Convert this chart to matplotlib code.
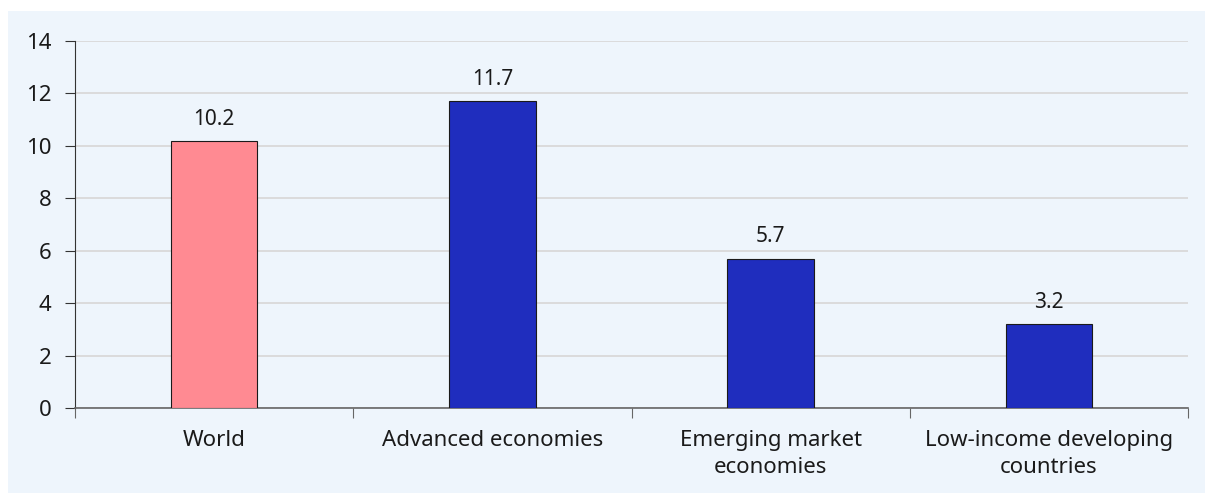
import matplotlib
matplotlib.use("Agg")
import matplotlib.pyplot as plt
from matplotlib.patches import Rectangle

categories = ["World", "Advanced economies", "Emerging market\neconomies", "Low-income developing\ncountries"]
values = [10.2, 11.7, 5.7, 3.2]
colors = ["#FF8A92", "#1F2DBE", "#1F2DBE", "#1F2DBE"]
yticks = [0, 2, 4, 6, 8, 10, 12, 14]

plt.rcParams['font.family'] = ['Noto Sans', 'DejaVu Sans']
bg = "#EEF5FC"
fig = plt.figure(figsize=(12.05, 4.94), dpi=100, facecolor="white")
fig.patches.append(Rectangle((8/1205, 1/494), 1 - 8/1205, 1 - 12/494, transform=fig.transFigure,
                             facecolor=bg, edgecolor="none", zorder=-10))
ax = fig.add_axes([75/1205, 1 - 408/494, (1188 - 75)/1205, (408 - 41)/494])
ax.set_facecolor(bg)

x = list(range(len(categories)))
ax.bar(x, values, width=0.31, color=colors, edgecolor="#1a1a1a", linewidth=0.8, zorder=3)
for xi, v in zip(x, values):
    ax.annotate(f"{v:.1f}", (xi, v), xytext=(0, 8), textcoords="offset points",
                ha="center", va="bottom", fontsize=15, color="#1a1a1a")

ax.set_xlim(-0.5, len(categories) - 0.5)
ax.set_ylim(0, 14)
ax.set_yticks(yticks)
ax.set_yticklabels([str(t) for t in yticks], fontsize=16, color="#1a1a1a")
ax.yaxis.grid(True, color="#D9D9D9", linewidth=1.3, zorder=0)
ax.set_axisbelow(True)

ax.set_xticks([i - 0.5 for i in range(len(categories) + 1)], minor=False)
ax.set_xticklabels([])
ax.set_xticks(x, minor=True)
ax.set_xticklabels(categories, minor=True, fontsize=16, color="#1a1a1a", linespacing=1.35)
ax.tick_params(axis="x", which="major", length=7, color="#666666", direction="out")
ax.tick_params(axis="x", which="minor", length=0, pad=16)
ax.tick_params(axis="y", length=7, color="#333333", pad=10)

for s in ["top", "right"]:
    ax.spines[s].set_visible(False)
ax.spines["left"].set_color("#333333")
ax.spines["bottom"].set_color("#666666")
ax.spines["bottom"].set_linewidth(1.2)

fig.savefig("out.png", dpi=100, facecolor="white")
